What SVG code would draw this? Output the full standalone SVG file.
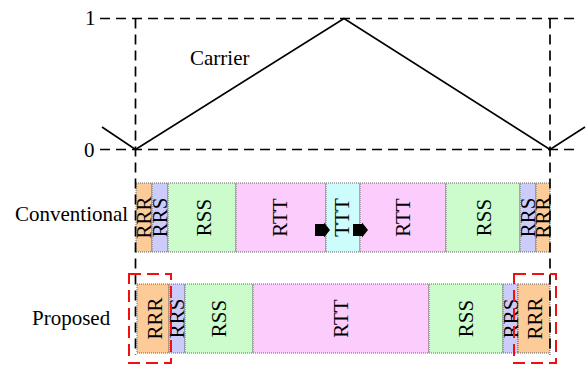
<svg xmlns="http://www.w3.org/2000/svg" width="588" height="365" viewBox="0 0 588 365">
<style>
text{font-family:"Liberation Serif","Times New Roman",serif;font-size:21px;fill:#000}
.lbl{text-anchor:middle}
.seg{stroke:#666;stroke-width:1;stroke-dasharray:1 1}
.rrr{fill:#FCCB98}.rrs{fill:#CCCCFA}.rss{fill:#CCFCCC}.rtt{fill:#FCCCFC}.ttt{fill:#CCFCFC}
.axis{stroke:#000;stroke-width:1.7;stroke-dasharray:10 6;fill:none}
.red{stroke:#F01010;stroke-width:2;stroke-dasharray:12 6;fill:none}
</style>
<rect width="588" height="365" fill="#fff"/>
<g id="axes">
<line class="axis" x1="100" y1="18.5" x2="580" y2="18.5"/>
<line class="axis" x1="100" y1="149.5" x2="580" y2="149.5"/>
<text x="85" y="25">1</text>
<text x="84" y="157">0</text>
</g>
<g id="carrier">
<polyline points="102,127 135.5,149.5 344,18.5 550,149.5 585,127" fill="none" stroke="#000" stroke-width="1.6"/>
<text x="190" y="65">Carrier</text>
</g>
<g id="conventional">
<text x="15" y="221">Conventional</text>
<rect class="seg rrr" x="136" y="183" width="16" height="69"/>
<rect class="seg rrs" x="152" y="183" width="16" height="69"/>
<rect class="seg rss" x="168" y="183" width="68" height="69"/>
<rect class="seg rtt" x="236" y="183" width="90" height="69"/>
<rect class="seg ttt" x="326" y="183" width="34" height="69"/>
<rect class="seg rtt" x="360" y="183" width="86" height="69"/>
<rect class="seg rss" x="446" y="183" width="74" height="69"/>
<rect class="seg rrs" x="520" y="183" width="16" height="69"/>
<rect class="seg rrr" x="536" y="183" width="14" height="69"/>
<text class="lbl" transform="translate(144,217.5) rotate(-90)" y="7">RRR</text>
<text class="lbl" transform="translate(160,217.5) rotate(-90)" y="7">RRS</text>
<text class="lbl" transform="translate(204,217.5) rotate(-90)" y="7">RSS</text>
<text class="lbl" transform="translate(280,217.5) rotate(-90)" y="7">RTT</text>
<text class="lbl" transform="translate(342,217.5) rotate(-90)" y="7">TTT</text>
<text class="lbl" transform="translate(403,217.5) rotate(-90)" y="7">RTT</text>
<text class="lbl" transform="translate(484,217.5) rotate(-90)" y="7">RSS</text>
<text class="lbl" transform="translate(528,217.5) rotate(-90)" y="7">RRS</text>
<text class="lbl" transform="translate(543,217.5) rotate(-90)" y="7">RRR</text>
<polygon points="315,224 324,224 324,222.5 330,230 324,237.5 324,236 315,236" fill="#000"/>
<polygon points="353,224 362,224 362,222.5 368,230 362,237.5 362,236 353,236" fill="#000"/>
</g>
<g id="proposed">
<text x="32" y="325">Proposed</text>
<rect class="seg rrr" x="137" y="284" width="32" height="69"/>
<rect class="seg rrs" x="169" y="284" width="16" height="69"/>
<rect class="seg rss" x="185" y="284" width="68" height="69"/>
<rect class="seg rtt" x="253" y="284" width="176" height="69"/>
<rect class="seg rss" x="429" y="284" width="74" height="69"/>
<rect class="seg rrs" x="503" y="284" width="15" height="69"/>
<rect class="seg rrr" x="518" y="284" width="32" height="69"/>
<text class="lbl" transform="translate(155,318.5) rotate(-90)" y="7">RRR</text>
<text class="lbl" transform="translate(177,318.5) rotate(-90)" y="7">RRS</text>
<text class="lbl" transform="translate(219,318.5) rotate(-90)" y="7">RSS</text>
<text class="lbl" transform="translate(341,318.5) rotate(-90)" y="7">RTT</text>
<text class="lbl" transform="translate(466,318.5) rotate(-90)" y="7">RSS</text>
<text class="lbl" transform="translate(511,318.5) rotate(-90)" y="7">RRS</text>
<text class="lbl" transform="translate(535,318.5) rotate(-90)" y="7">RRR</text>
</g>
<g id="connectors">
<line class="axis" x1="135.5" y1="18.5" x2="135.5" y2="355"/>
<line class="axis" x1="550" y1="18.5" x2="550" y2="355"/>
<rect class="red" x="129" y="274" width="42" height="89"/>
<rect class="red" x="514" y="274" width="42" height="89"/>
</g>
</svg>
